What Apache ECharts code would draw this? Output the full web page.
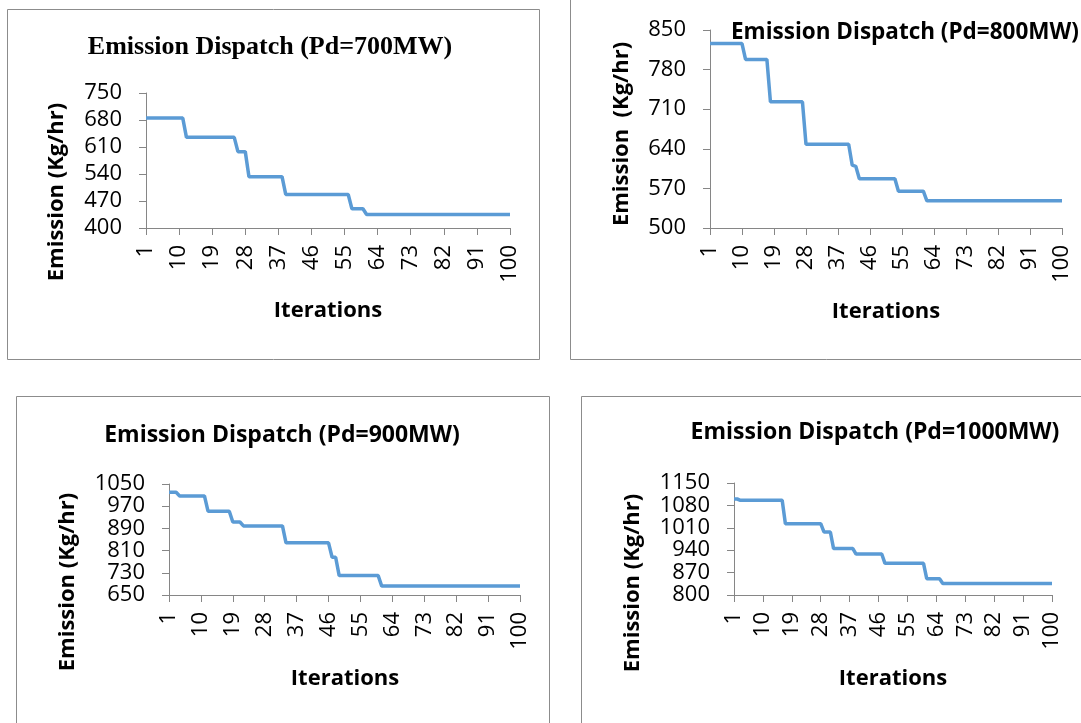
<!DOCTYPE html>
<html>
<head>
<meta charset="utf-8">
<script src="https://cdn.jsdelivr.net/npm/echarts@6/dist/echarts.min.js"></script>
<style>
  html, body { margin: 0; padding: 0; background: #fff; }
  #chart { width: 1081px; height: 723px; }
</style>
</head>
<body>
<div id="chart"></div>
<script>
// iterations 1..100 (category labels)
var iterations = Array.from({ length: 100 }, function (_, i) { return String(i + 1); });

// emission per iteration
var emission700 = [
  685, 685, 685, 685, 685, 685, 685, 685, 685, 685,
  685, 635, 635, 635, 635, 635, 635, 635, 635, 635,
  635, 635, 635, 635, 635, 598, 598, 598, 533, 533,
  533, 533, 533, 533, 533, 533, 533, 533, 487, 487,
  487, 487, 487, 487, 487, 487, 487, 487, 487, 487,
  487, 487, 487, 487, 487, 487, 450, 450, 450, 450,
  435, 435, 435, 435, 435, 435, 435, 435, 435, 435,
  435, 435, 435, 435, 435, 435, 435, 435, 435, 435,
  435, 435, 435, 435, 435, 435, 435, 435, 435, 435,
  435, 435, 435, 435, 435, 435, 435, 435, 435, 435
];
var emission800 = [
  826, 826, 826, 826, 826, 826, 826, 826, 826, 826,
  798, 798, 798, 798, 798, 798, 798, 723, 723, 723,
  723, 723, 723, 723, 723, 723, 723, 648, 648, 648,
  648, 648, 648, 648, 648, 648, 648, 648, 648, 648,
  611, 609, 587, 587, 587, 587, 587, 587, 587, 587,
  587, 587, 587, 565, 565, 565, 565, 565, 565, 565,
  565, 548, 548, 548, 548, 548, 548, 548, 548, 548,
  548, 548, 548, 548, 548, 548, 548, 548, 548, 548,
  548, 548, 548, 548, 548, 548, 548, 548, 548, 548,
  548, 548, 548, 548, 548, 548, 548, 548, 548, 548
];
var emission900 = [
  1020, 1020, 1020, 1007, 1007, 1007, 1007, 1007, 1007, 1007,
  1007, 952, 952, 952, 952, 952, 952, 952, 913, 913,
  913, 899, 899, 899, 899, 899, 899, 899, 899, 899,
  899, 899, 899, 838, 838, 838, 838, 838, 838, 838,
  838, 838, 838, 838, 838, 838, 786, 786, 720, 720,
  720, 720, 720, 720, 720, 720, 720, 720, 720, 720,
  682, 682, 682, 682, 682, 682, 682, 682, 682, 682,
  682, 682, 682, 682, 682, 682, 682, 682, 682, 682,
  682, 682, 682, 682, 682, 682, 682, 682, 682, 682,
  682, 682, 682, 682, 682, 682, 682, 682, 682, 682
];
var emission1000 = [
  1100, 1100, 1096, 1096, 1096, 1096, 1096, 1096, 1096, 1096,
  1096, 1096, 1096, 1096, 1096, 1096, 1023, 1023, 1023, 1023,
  1023, 1023, 1023, 1023, 1023, 1023, 1023, 1023, 997, 997,
  997, 945, 945, 945, 945, 945, 945, 945, 928, 928,
  928, 928, 928, 928, 928, 928, 928, 899, 899, 899,
  899, 899, 899, 899, 899, 899, 899, 899, 899, 899,
  851, 851, 851, 851, 851, 836, 836, 836, 836, 836,
  836, 836, 836, 836, 836, 836, 836, 836, 836, 836,
  836, 836, 836, 836, 836, 836, 836, 836, 836, 836,
  836, 836, 836, 836, 836, 836, 836, 836, 836, 836
];

// y tick labels of each panel
var ticks700 = [400, 470, 540, 610, 680, 750];
var ticks800 = [500, 570, 640, 710, 780, 850];
var ticks900 = [650, 730, 810, 890, 970, 1050];
var ticks1000 = [800, 870, 940, 1010, 1080, 1150];

var titles = [
  "Emission Dispatch (Pd=700MW)",
  "Emission Dispatch (Pd=800MW)",
  "Emission Dispatch (Pd=900MW)",
  "Emission Dispatch (Pd=1000MW)"
];
var xName = "Iterations";
var yNames = ["Emission (Kg/hr)", "Emission  (Kg/hr)", "Emission (Kg/hr)", "Emission (Kg/hr)"];

var chart = echarts.init(document.getElementById("chart"));

var axisGray = "#868686";
var sans = "Open Sans";

// panel layout: plot area, borders, text positions
var panels = [
  { grid: { left: 146, top: 93, width: 364, height: 135 }, data: emission700, ticks: ticks700,
    box: [7.5, 9.5, 532, 350],
    title: { x: 270, y: 47, font: "bold 26px 'Liberation Serif'", align: "center" },
    xn: [328, 311], yn: [57, 192] },
  { grid: { left: 710, top: 30, width: 352, height: 198 }, data: emission800, ticks: ticks800,
    box: [570.5, -2, 530, 361.5],
    title: { x: 731, y: 33, font: "bold 22.5px '" + sans + "'", align: "left" },
    xn: [886, 312], yn: [622, 134] },
  { grid: { left: 169, top: 484, width: 351, height: 111 }, data: emission900, ticks: ticks900,
    box: [16.5, 396.5, 533, 340],
    title: { x: 282, y: 435, font: "bold 23px '" + sans + "'", align: "center" },
    xn: [345, 679], yn: [68, 582] },
  { grid: { left: 734, top: 483, width: 318, height: 112 }, data: emission1000, ticks: ticks1000,
    box: [581.5, 396.5, 520, 340],
    title: { x: 875, y: 432, font: "bold 23px '" + sans + "'", align: "center" },
    xn: [893, 679], yn: [633, 583] }
];

var grids = [], xAxes = [], yAxes = [], series = [], graphics = [];

panels.forEach(function (p, i) {
  grids.push(Object.assign({ containLabel: false, outerBoundsMode: "none" }, p.grid));

  xAxes.push({
    type: "category",
    gridIndex: i,
    data: iterations,
    boundaryGap: false,
    axisLine: { show: true, lineStyle: { color: axisGray, width: 1 } },
    axisTick: { show: true, interval: 8, length: 7, lineStyle: { color: axisGray } },
    axisLabel: {
      interval: 8, rotate: 90, margin: 17,
      fontFamily: sans, fontSize: 22, color: "#000"
    },
    splitLine: { show: false }
  });

  yAxes.push({
    type: "value",
    gridIndex: i,
    min: p.ticks[0],
    max: p.ticks[p.ticks.length - 1],
    axisLine: { show: true, lineStyle: { color: axisGray, width: 1 } },
    axisTick: { show: true, length: 7, customValues: p.ticks, lineStyle: { color: axisGray } },
    axisLabel: {
      customValues: p.ticks, margin: 24,
      formatter: function (v) { return String(v); },
      fontFamily: sans, fontSize: 22, color: "#000"
    },
    splitLine: { show: false }
  });

  series.push({
    type: "line",
    xAxisIndex: i,
    yAxisIndex: i,
    data: p.data,
    symbol: "none",
    lineStyle: { color: "#5b9bd5", width: 3.5 },
    z: 3
  });

  // panel border
  graphics.push({
    type: "rect",
    shape: { x: p.box[0], y: p.box[1], width: p.box[2], height: p.box[3] },
    style: { fill: "none", stroke: "#8c8c8c", lineWidth: 1 },
    silent: true, z: 0
  });

  // chart title
  graphics.push({
    type: "text",
    x: p.title.x, y: p.title.y,
    style: {
      text: titles[i], font: p.title.font, fill: "#000",
      align: p.title.align, verticalAlign: "middle",
      textAlign: p.title.align, textVerticalAlign: "middle"
    },
    z: 10
  });

  // x axis name
  graphics.push({
    type: "text",
    x: p.xn[0], y: p.xn[1],
    style: {
      text: xName, font: "bold 22px '" + sans + "'", fill: "#000",
      align: "center", verticalAlign: "middle",
      textAlign: "center", textVerticalAlign: "middle"
    }
  });

  // y axis name
  graphics.push({
    type: "text",
    x: p.yn[0], y: p.yn[1],
    rotation: Math.PI / 2,
    style: {
      text: yNames[i], font: "bold 22px '" + sans + "'", fill: "#000",
      align: "center", verticalAlign: "middle",
      textAlign: "center", textVerticalAlign: "middle"
    }
  });
});

chart.setOption({
  backgroundColor: "#fff",
  animation: false,
  grid: grids,
  xAxis: xAxes,
  yAxis: yAxes,
  series: series,
  graphic: graphics
});
</script>
</body>
</html>
